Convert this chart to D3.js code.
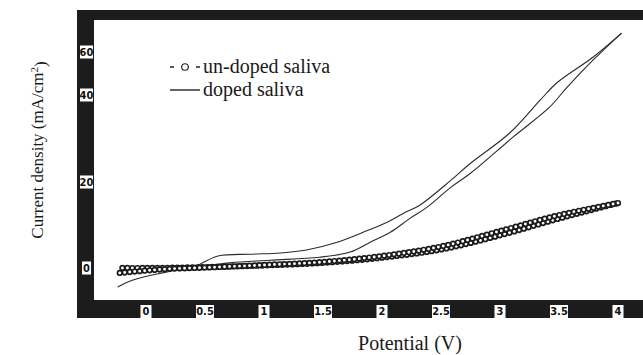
<!DOCTYPE html>
<html lang="en">
<head>
<meta charset="utf-8">
<title>Current density vs potential</title>
<style>
  body { margin: 0; background: #fff; }
  svg { display: block; }
  .tick-label { font-family: "DejaVu Sans Condensed", "DejaVu Sans", sans-serif; font-weight: bold; font-size: 11px; fill: #111; }
  .title { font-family: "Liberation Serif", serif; fill: #1a1a1a; }
</style>
<script src="https://cdnjs.cloudflare.com/ajax/libs/d3/7.8.5/d3.min.js"></script>
</head>
<body>
<script>
// tick values
var xTicks = [0, 0.5, 1, 1.5, 2, 2.5, 3, 3.5, 4];
var yTicks = [0, 20, 40, 60];

// un-doped saliva, forward and reverse sweep (V, mA/cm2)
var undopedFwdV = [-0.2, 0, 0.5, 1.0, 1.5, 2.0, 2.5, 3.0, 3.5, 4.0];
var undopedFwdI = [0.0, 0.0, 0.2, 0.6, 1.2, 2.4, 4.3, 7.6, 11.5, 15.1];
var undopedRevV = [4.0, 3.5, 3.0, 2.5, 2.0, 1.5, 1.0, 0.5, 0.2, 0.0, -0.24];
var undopedRevI = [15.1, 12.3, 8.6, 5.0, 2.8, 1.4, 0.7, 0.1, -0.2, -0.6, -1.2];

// doped saliva, forward and reverse sweep
var dopedFwdV = [-0.24, -0.11, 0.18, 0.42, 0.61, 0.88, 1.14, 1.36, 1.62, 1.84, 2.04, 2.18, 2.32, 2.58, 2.75, 3.08, 3.34, 3.48, 3.79, 4.03];
var dopedFwdI = [-4.4, -2.8, -0.9, 0.5, 2.8, 3.2, 3.5, 4.2, 6.0, 8.3, 10.6, 12.7, 14.6, 20.3, 24.3, 31.2, 38.8, 45.6, 57.7, 68.8];
var dopedRevV = [4.03, 3.79, 3.57, 3.42, 3.11, 2.75, 2.58, 2.38, 2.24, 2.07, 1.90, 1.73, 1.47, 1.05, 0.71, 0.42, 0.12, -0.14];
var dopedRevI = [68.8, 56.3, 43.7, 37.2, 30.3, 22.0, 18.7, 14.1, 11.6, 8.3, 6.0, 3.7, 2.5, 1.8, 1.2, 0.2, -0.5, -0.7];

var width = 643, height = 355;
var serif = "'Liberation Serif', 'Times New Roman', serif";

var svg = d3.select("body").append("svg")
  .attr("width", width)
  .attr("height", height);

var x = d3.scaleLinear().domain([0, 4]).range([146, 618]);
// the printed axis is not evenly spaced above 40
var y = d3.scaleLinear().domain([0, 20, 40, 60]).range([268, 182, 95, 52]);

function pts(vs, is) {
  return vs.map(function(v, k) { return [v, is[k]]; });
}

// dark frame
var frame = svg.append("g").attr("fill", "#1c1c1c");
frame.append("rect").attr("x", 77).attr("y", 10).attr("width", 566).attr("height", 10);
frame.append("rect").attr("x", 77).attr("y", 10).attr("width", 17).attr("height", 308);
frame.append("rect").attr("x", 77).attr("y", 300).attr("width", 566).attr("height", 18);

// x tick labels in white boxes
var xg = svg.append("g").selectAll("g").data(xTicks).enter().append("g")
  .attr("transform", function(d) { return "translate(" + x(d) + ",311.5)"; });
xg.append("rect")
  .attr("x", function(d) { return d % 1 ? -9 : -5.5; })
  .attr("y", -6.5)
  .attr("width", function(d) { return d % 1 ? 18 : 11; })
  .attr("height", 13)
  .attr("fill", "#fff");
xg.append("text").attr("class", "tick-label")
  .attr("text-anchor", "middle").attr("dy", "0.36em")
  .text(function(d) { return d; });

// y tick labels in white boxes
var yg = svg.append("g").selectAll("g").data(yTicks).enter().append("g")
  .attr("transform", function(d) { return "translate(86.5," + y(d) + ")"; });
yg.append("rect")
  .attr("x", function(d) { return d ? -6.5 : -4.5; })
  .attr("y", -6.5)
  .attr("width", function(d) { return d ? 13 : 9; })
  .attr("height", 13)
  .attr("fill", "#fff");
yg.append("text").attr("class", "tick-label")
  .attr("text-anchor", "middle").attr("dy", "0.36em")
  .text(function(d) { return d; });

var line = d3.line()
  .x(function(d) { return x(d[0]); })
  .y(function(d) { return y(d[1]); })
  .curve(d3.curveCatmullRom);

// doped: thin lines
[pts(dopedFwdV, dopedFwdI), pts(dopedRevV, dopedRevI)].forEach(function(s) {
  svg.append("path").attr("d", line(s))
    .attr("fill", "none").attr("stroke", "#2a2a2a").attr("stroke-width", 1.1);
});

// un-doped: thick line with open circle markers along it
[pts(undopedFwdV, undopedFwdI), pts(undopedRevV, undopedRevI)].forEach(function(s) {
  var p = svg.append("path").attr("d", line(s))
    .attr("fill", "none").attr("stroke", "#1c1c1c").attr("stroke-width", 3);
  var node = p.node(), len = node.getTotalLength();
  var marks = d3.range(0, len, 5).map(function(l) { return node.getPointAtLength(l); });
  svg.append("g").selectAll("circle").data(marks).enter().append("circle")
    .attr("cx", function(d) { return d.x; })
    .attr("cy", function(d) { return d.y; })
    .attr("r", 2.3)
    .attr("fill", "#fff")
    .attr("stroke", "#1c1c1c")
    .attr("stroke-width", 1.7);
});

// legend
var lg = svg.append("g");
lg.append("line").attr("x1", 170).attr("x2", 200).attr("y1", 67).attr("y2", 67)
  .attr("stroke", "#222").attr("stroke-width", 1.4).attr("stroke-dasharray", "4,7,8,7,4");
lg.append("circle").attr("cx", 185).attr("cy", 67).attr("r", 3.3)
  .attr("fill", "#fff").attr("stroke", "#222").attr("stroke-width", 1.1);
lg.append("text").attr("class", "title").attr("font-family", serif)
  .attr("x", 203).attr("y", 73).attr("font-size", 20).text("un-doped saliva");
lg.append("line").attr("x1", 170).attr("x2", 200).attr("y1", 90).attr("y2", 90)
  .attr("stroke", "#222").attr("stroke-width", 1.4);
lg.append("text").attr("class", "title").attr("font-family", serif)
  .attr("x", 203).attr("y", 96).attr("font-size", 20).text("doped saliva");

// axis titles
svg.append("text").attr("class", "title").attr("font-family", serif)
  .attr("x", 410).attr("y", 350).attr("text-anchor", "middle")
  .attr("font-size", 20).text("Potential (V)");

var yt = svg.append("text").attr("class", "title").attr("font-family", serif)
  .attr("transform", "translate(43,150) rotate(-90)")
  .attr("text-anchor", "middle").attr("font-size", 17);
yt.append("tspan").text("Current density (mA/cm");
yt.append("tspan").attr("dy", "-0.45em").attr("font-size", 11).text("2");
yt.append("tspan").attr("dy", "0.45em").text(")");
</script>
</body>
</html>
